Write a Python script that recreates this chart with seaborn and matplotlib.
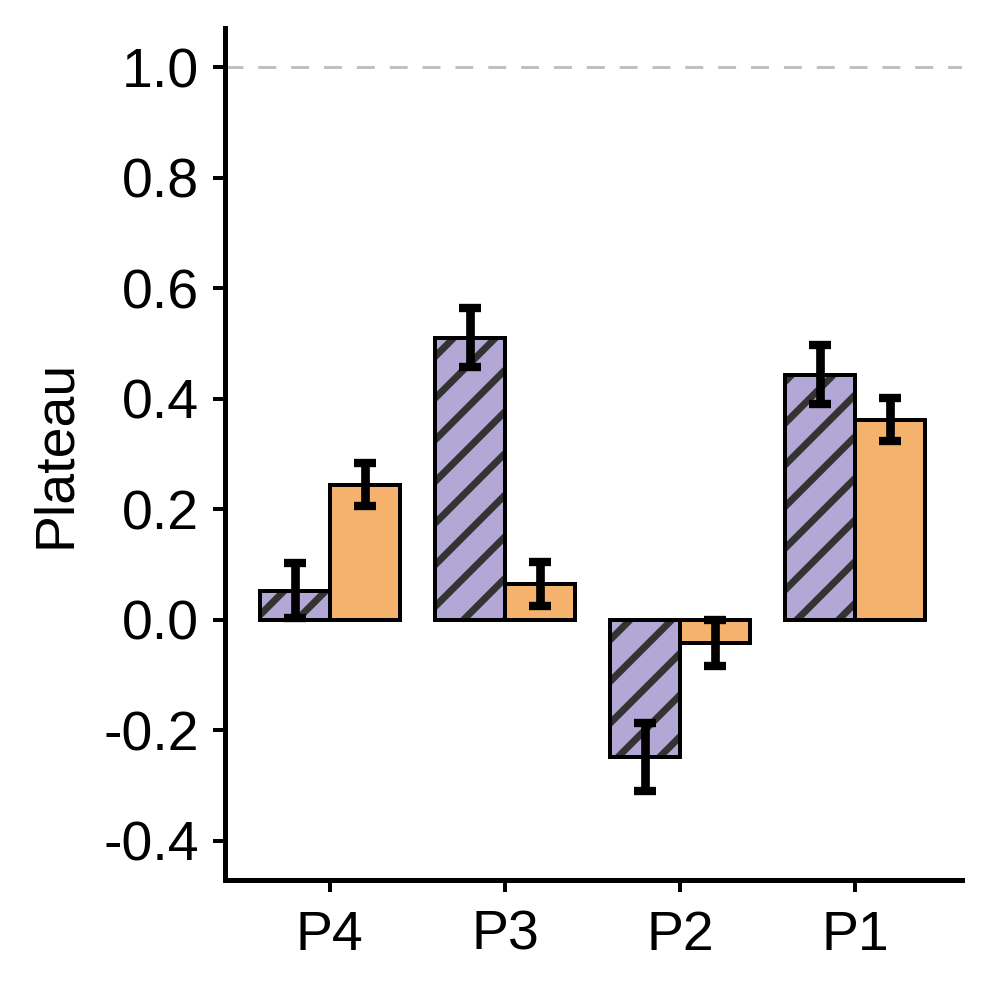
import matplotlib
matplotlib.use("Agg")
import matplotlib.pyplot as plt
import seaborn as sns
import pandas as pd
from matplotlib.patches import Rectangle

# data
panels = ["P4", "P3", "P2", "P1"]
purple_vals = [0.053, 0.511, -0.248, 0.444]
purple_err = [0.050, 0.054, 0.062, 0.054]
orange_vals = [0.245, 0.065, -0.042, 0.362]
orange_err = [0.039, 0.039, 0.042, 0.039]
groups = ["A", "B"]

purple = "#b3a7d5"
orange = "#f5b26c"

df = pd.DataFrame({
    "panel": panels * 2,
    "value": purple_vals + orange_vals,
    "group": [groups[0]] * 4 + [groups[1]] * 4,
})

sns.set_theme(style="ticks")
plt.rcParams["font.family"] = ["Liberation Sans", "DejaVu Sans"]
plt.rcParams["hatch.linewidth"] = 2.0
for k in ["text.color", "axes.labelcolor", "xtick.color", "ytick.color"]:
    plt.rcParams[k] = "black"

fig = plt.figure(figsize=(3.96, 3.96), dpi=250)
ax = fig.add_axes([0.227, 0.111, 0.745, 0.861])

ax.axhline(1.0, color="#c0c0c0", lw=0.86, dashes=(6, 5), zorder=0)

sns.barplot(data=df, x="panel", y="value", hue="group", order=panels,
            hue_order=groups, palette=[purple, orange], width=0.8,
            edgecolor="black", linewidth=1.15, errorbar=None, legend=False,
            saturation=1, ax=ax)

# hatch on the purple bars, then redraw black outline
for bar in ax.containers[0]:
    bar.set_hatch("//")
    bar.set_edgecolor("#333333")
    bar.set_linewidth(0)
    ax.add_patch(Rectangle(bar.get_xy(), bar.get_width(), bar.get_height(),
                           fill=False, edgecolor="black", lw=1.15, zorder=bar.get_zorder() + 0.1))

# error bars at bar centres
for cont, vals, errs in [(ax.containers[0], purple_vals, purple_err),
                         (ax.containers[1], orange_vals, orange_err)]:
    xs = [b.get_x() + b.get_width() / 2 for b in cont]
    ax.errorbar(xs, vals, yerr=errs, fmt="none", ecolor="black",
                elinewidth=2.5, capsize=3.2, capthick=2.4, zorder=5)

ax.set_xlim(-0.6, 3.61)
ax.set_ylim(-0.471, 1.072)
ax.set_yticks([-0.4, -0.2, 0.0, 0.2, 0.4, 0.6, 0.8, 1.0])
ax.set_yticklabels(["-0.4", "-0.2", "0.0", "0.2", "0.4", "0.6", "0.8", "1.0"])
ax.set_xlabel("")
ax.set_ylabel("Plateau", fontsize=16, labelpad=6)
ax.tick_params(axis="both", labelsize=16, length=3.5, width=1.15, color="black")
ax.tick_params(axis="y", pad=4)
ax.tick_params(axis="x", pad=5)
for s in ["left", "bottom"]:
    ax.spines[s].set_linewidth(1.44)
    ax.spines[s].set_color("black")
sns.despine(ax=ax)

fig.savefig("out.png", dpi=250)
